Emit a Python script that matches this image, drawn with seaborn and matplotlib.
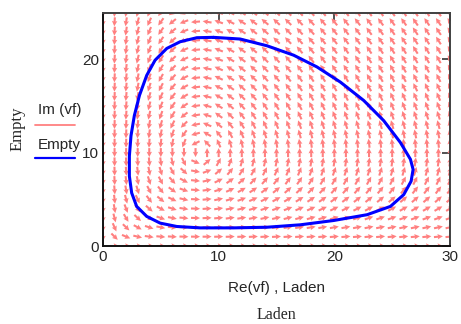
import numpy as np
import pandas as pd
import matplotlib
matplotlib.use("Agg")
import matplotlib.pyplot as plt
import seaborn as sns

# ---- data ----
# closed orbit (Laden, Empty)
orbit_x = [9.55, 11.86, 14.17, 16.48, 18.5, 20.52, 22.54, 24.27, 25.71, 26.58, 26.81,
           26.64, 26.0, 24.85, 22.83, 19.94, 17.06, 14.17, 11.28, 8.40, 6.38, 4.94,
           3.78, 2.91, 2.48, 2.28, 2.28, 2.42, 2.71, 3.15, 3.78, 4.50, 5.51, 6.67,
           8.11, 9.55]
orbit_y = [22.34, 22.16, 21.44, 20.43, 19.17, 17.55, 15.58, 13.42, 11.08, 9.28, 8.20,
           6.94, 5.50, 4.24, 3.35, 2.73, 2.27, 2.01, 1.94, 1.94, 2.09, 2.45,
           3.17, 4.24, 5.68, 7.48, 9.64, 11.80, 13.96, 16.12, 18.27, 19.89, 21.15, 21.87,
           22.30, 22.34]

# direction field grid and its rest point (read from the vortex centre)
grid_x = list(range(0, 31))
grid_y = list(range(0, 26))
field_center_x = 8.3
field_center_y = 10.0
field_ratio = 0.8

x_ticks = [0, 10, 20, 30]
y_ticks = [0, 10, 20]

# ---- figure ----
sns.set_style("white")
plt.rcParams["font.family"] = ["Liberation Sans", "DejaVu Sans"]

W, H = 461, 324
fig = plt.figure(figsize=(W / 100, H / 100), dpi=100)
ax_l, ax_r, ax_b, ax_t = 103, 450, 78, 311.5
ax = fig.add_axes([ax_l / W, ax_b / H, (ax_r - ax_l) / W, (ax_t - ax_b) / H])
ax.set_xlim(0, 30)
ax.set_ylim(0, 25)

# direction field (unit arrows in pixel space)
X, Y = np.meshgrid(np.array(grid_x, float), np.array(grid_y, float))
DX = field_ratio * X * (1 - Y / field_center_y)
DY = Y * (X / field_center_x - 1)
ppx = (ax_r - ax_l) / 30.0
ppy = (ax_t - ax_b) / 25.0
PX, PY = DX * ppx, DY * ppy
mag = np.hypot(PX, PY)
mag[mag == 0] = np.nan
L = 9.0
U = PX / mag * L / ppx
V = PY / mag * L / ppy
ax.quiver(X, Y, U, V, angles="xy", scale_units="xy", scale=1, pivot="middle",
          color="#FF8080", width=0.006, headwidth=2.6, headlength=2.6,
          headaxislength=2.3, zorder=1)

df = pd.DataFrame({"Laden": orbit_x, "Empty": orbit_y})
sns.lineplot(data=df, x="Laden", y="Empty", sort=False, estimator=None,
             color="#0000FF", linewidth=2.2, ax=ax, zorder=3)

ax.set_xticks(x_ticks)
ax.set_yticks(y_ticks)
ax.set_xlabel("")
ax.set_ylabel("")
ax.tick_params(direction="in", length=6, width=1.2, labelsize=11, color="#333333",
               top=True, right=True, pad=3)
for s in ["left", "bottom"]:
    ax.spines[s].set_color("#111111")
    ax.spines[s].set_linewidth(1.4)
for s in ["top", "right"]:
    ax.spines[s].set_color("#404040")
    ax.spines[s].set_linewidth(1.4)

# labels
fig.text(ax_l / W + (ax_r - ax_l) / W / 2, 1 - 288 / H, "Re(vf) , Laden",
         ha="center", va="center", fontsize=11)
fig.text(ax_l / W + (ax_r - ax_l) / W / 2, 1 - 315 / H, "Laden",
         ha="center", va="center", fontsize=11.5, family=["Liberation Serif", "DejaVu Serif"])
fig.text(18 / W, 1 - 129 / H, "Empty", ha="center", va="center", rotation=90,
         fontsize=12, family=["Liberation Serif", "DejaVu Serif"])

# legend at left
fig.text(38 / W, 1 - 110 / H, "Im (vf)", ha="left", va="center", fontsize=11)
fig.add_artist(plt.Line2D([35 / W, 75 / W], [1 - 125 / H, 1 - 125 / H],
                          color="#FF8080", linewidth=1.3))
fig.text(38 / W, 1 - 145 / H, "Empty", ha="left", va="center", fontsize=11)
fig.add_artist(plt.Line2D([35 / W, 75 / W], [1 - 158 / H, 1 - 158 / H],
                          color="#0000FF", linewidth=1.6))

fig.savefig("out.png", dpi=100)
